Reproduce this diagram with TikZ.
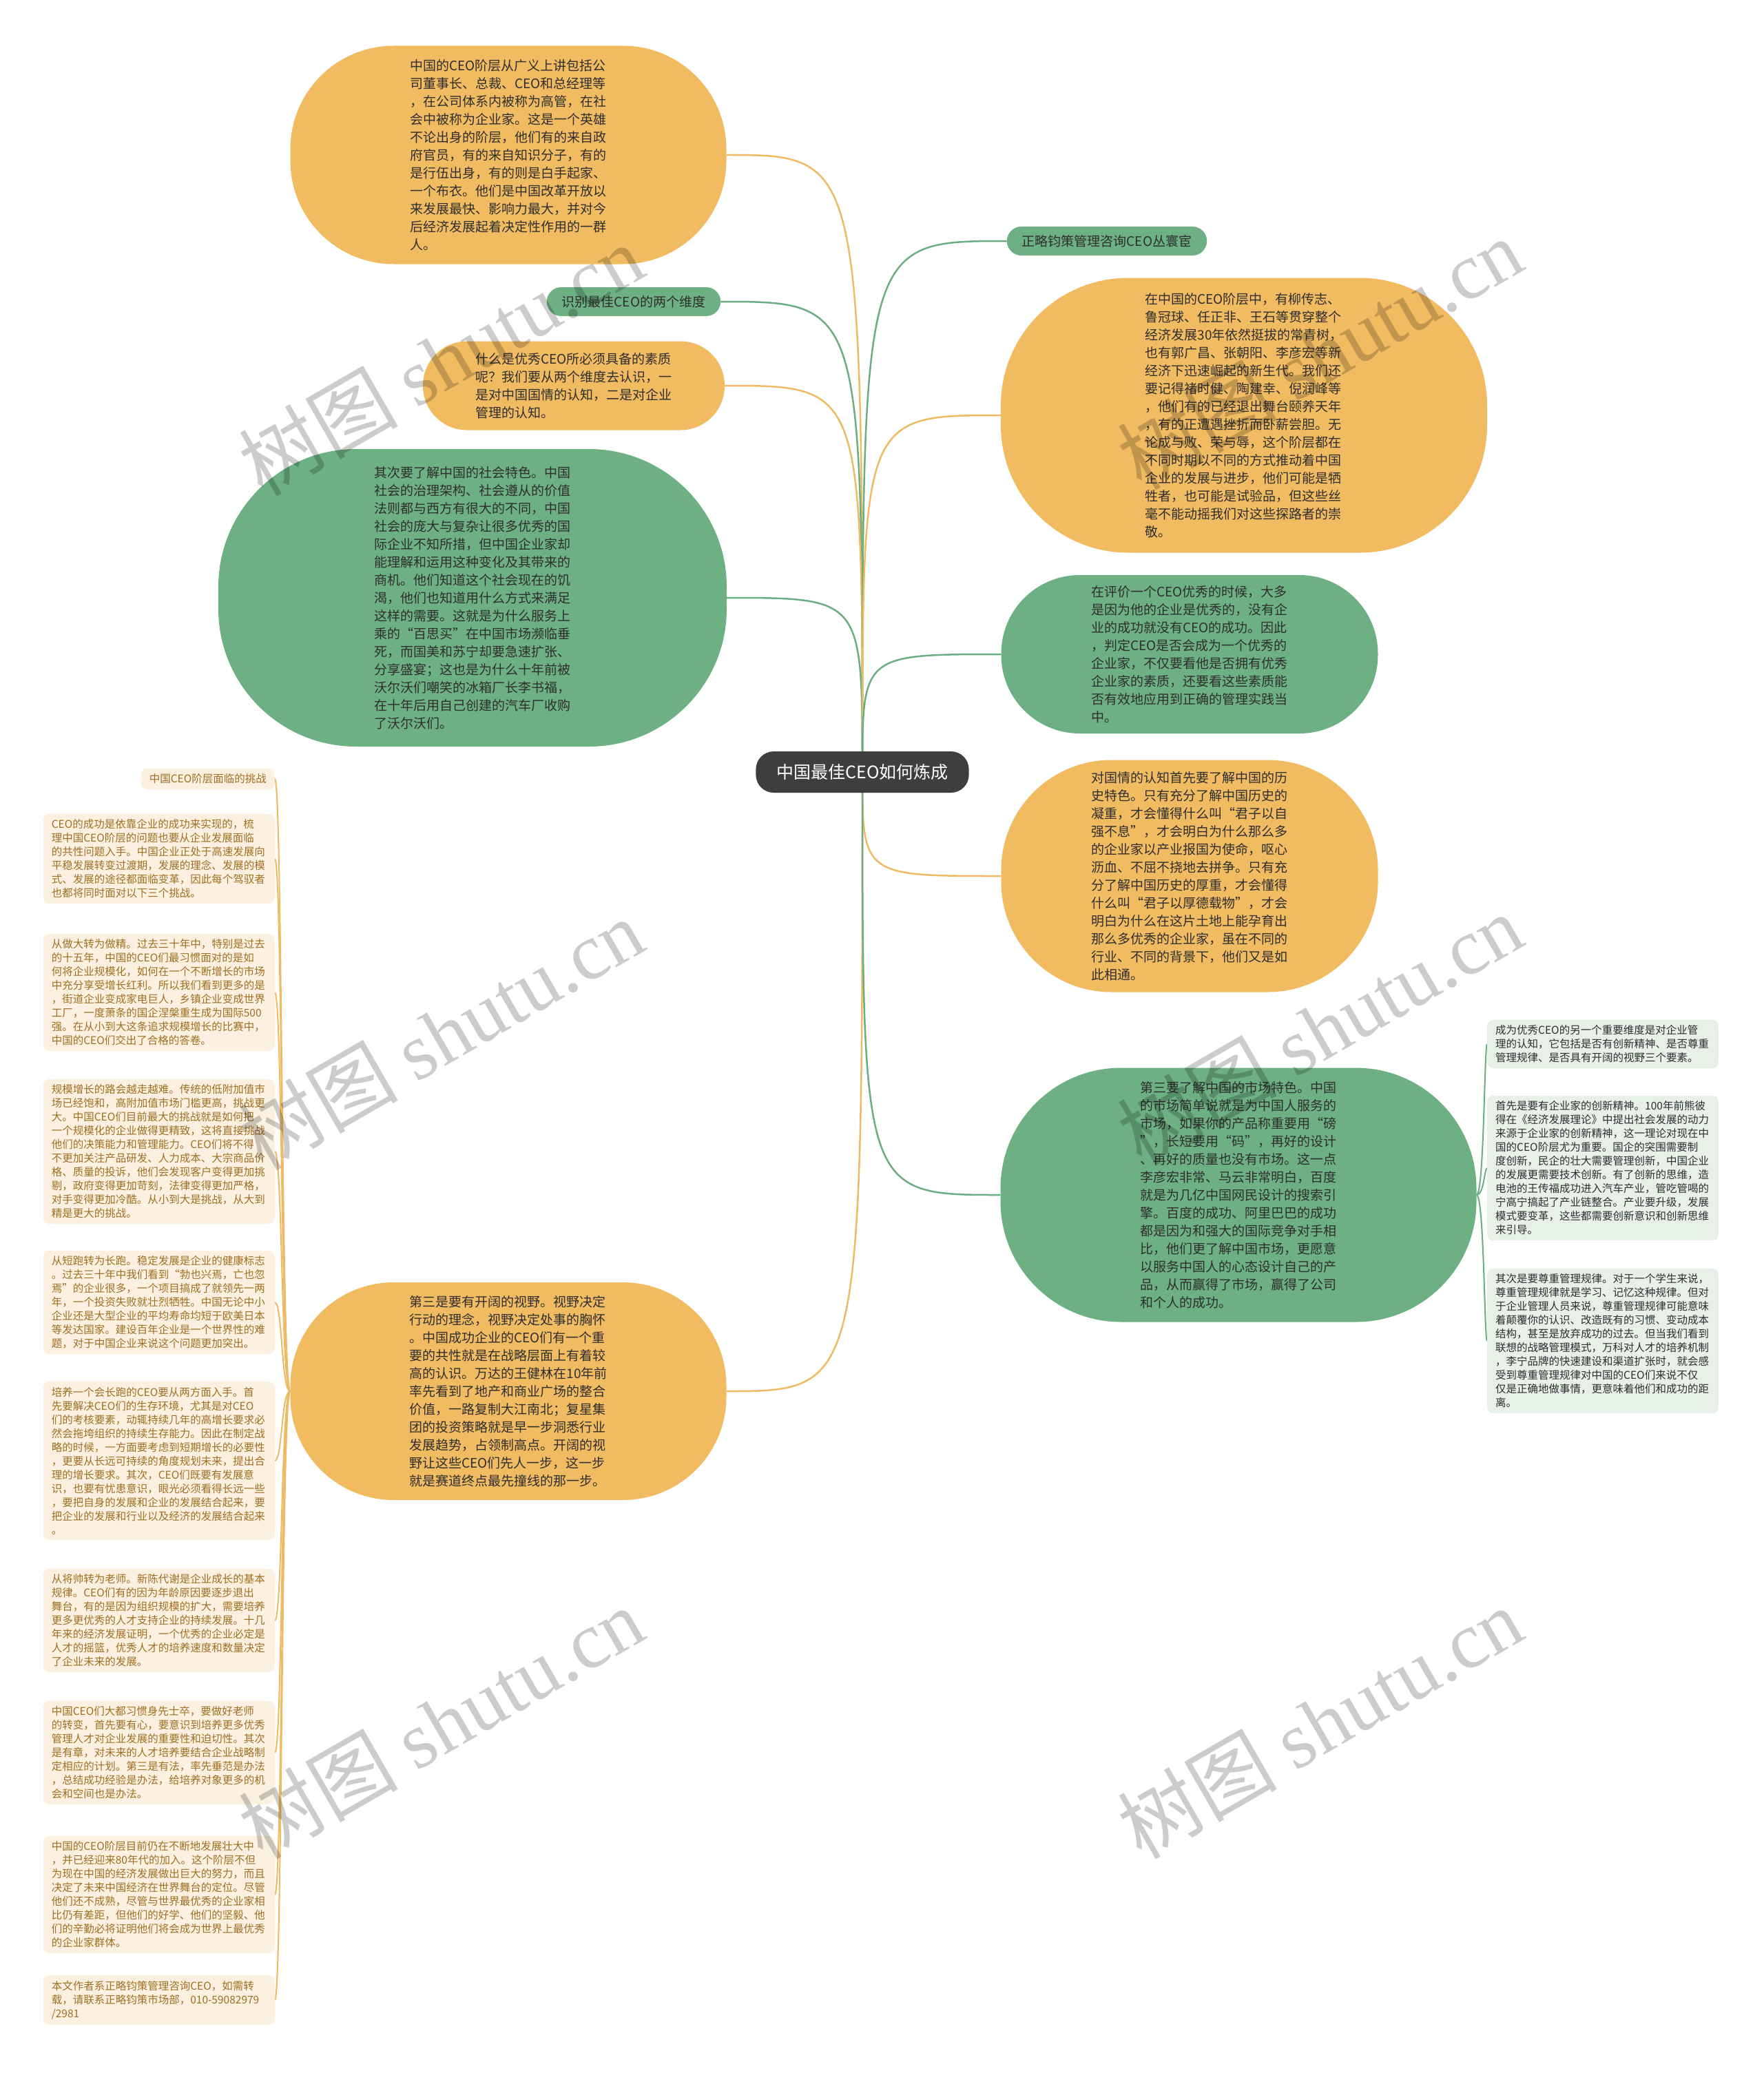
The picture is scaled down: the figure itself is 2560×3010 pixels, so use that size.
\documentclass[tikz,border=0pt]{standalone}
\usepackage{fontspec}
\setmainfont{Noto Sans CJK SC}
\newfontfamily\wmserif{Liberation Serif}
\usetikzlibrary{positioning, backgrounds}
\definecolor{blobor}{HTML}{F1BB62}
\definecolor{blobgr}{HTML}{6DB083}
\definecolor{ctrgray}{HTML}{3E3E3E}
\definecolor{lboxfill}{HTML}{FCF1E1}
\definecolor{lboxtext}{HTML}{9E6F22}
\definecolor{rboxfill}{HTML}{E7F1E9}
\definecolor{inkdark}{HTML}{2E2E2E}
\definecolor{lineor}{HTML}{EEBB64}
\definecolor{linegr}{HTML}{6AAE82}

\tikzset{
  blobtxt/.style={align=left, text=inkdark, inner sep=0, font=\fontsize{19}{26}\selectfont},
  oblob/.style={blobtxt, fill=blobor},
  gblob/.style={blobtxt, fill=blobgr},
  tagbox/.style={fill=blobgr, text=inkdark, rounded corners=21, inner xsep=22, inner ysep=0, minimum height=42, font=\fontsize{19}{23}\selectfont},
  ctrbox/.style={fill=ctrgray, text=white, rounded corners=26, inner xsep=30, inner ysep=0, minimum height=60, font=\fontsize{25}{30}\selectfont},
  lbox/.style={fill=lboxfill, text=lboxtext, rounded corners=9, align=left, inner xsep=12, inner ysep=8, font=\fontsize{15.5}{20}\selectfont},
  lpara/.style={lbox, text width=312},
  rpara/.style={lpara, fill=rboxfill, text=inkdark},
  orline/.style={draw=lineor, line width=2.5},
  grline/.style={draw=linegr, line width=2.5},
  wmark/.style={text=black, opacity=0.2, rotate=30, inner sep=0, font=\fontsize{116}{120}\selectfont},
}

\begin{document}
\begin{tikzpicture}[x=1pt, y=-1pt]
\useasboundingbox (0,0) rectangle (2560,3010);

% centre
\node[ctrbox] (ctr) at (1252,1121) {中国最佳CEO如何炼成};

% left branches
\node[oblob, minimum width=633, minimum height=317, rounded corners=150] (tl) at (738,225) {%
中国的CEO阶层从广义上讲包括公\\
司董事长、总裁、CEO和总经理等\\
，在公司体系内被称为高管，在社\\
会中被称为企业家。这是一个英雄\\
不论出身的阶层，他们有的来自政\\
府官员，有的来自知识分子，有的\\
是行伍出身，有的则是白手起家、\\
一个布衣。他们是中国改革开放以\\
来发展最快、影响力最大，并对今\\
后经济发展起着决定性作用的一群\\
人。};
\node[tagbox] (dim) at (920,438) {识别最佳CEO的两个维度};
\node[oblob, minimum width=438, minimum height=129, rounded corners=64] (what) at (833,560) {%
什么是优秀CEO所必须具备的素质\\
呢？我们要从两个维度去认识，一\\
是对中国国情的认知，二是对企业\\
管理的认知。};
\node[gblob, minimum width=738, minimum height=432, rounded corners=200] (soc) at (686,868) {%
其次要了解中国的社会特色。中国\\
社会的治理架构、社会遵从的价值\\
法则都与西方有很大的不同，中国\\
社会的庞大与复杂让很多优秀的国\\
际企业不知所措，但中国企业家却\\
能理解和运用这种变化及其带来的\\
商机。他们知道这个社会现在的饥\\
渴，他们也知道用什么方式来满足\\
这样的需要。这就是为什么服务上\\
乘的“百思买”在中国市场濒临垂\\
死，而国美和苏宁却要急速扩张、\\
分享盛宴；这也是为什么十年前被\\
沃尔沃们嘲笑的冰箱厂长李书福，\\
在十年后用自己创建的汽车厂收购\\
了沃尔沃们。};
\node[oblob, minimum width=633, minimum height=316, rounded corners=150] (view) at (738,2020) {%
第三是要有开阔的视野。视野决定\\
行动的理念，视野决定处事的胸怀\\
。中国成功企业的CEO们有一个重\\
要的共性就是在战略层面上有着较\\
高的认识。万达的王健林在10年前\\
率先看到了地产和商业广场的整合\\
价值，一路复制大江南北；复星集\\
团的投资策略就是早一步洞悉行业\\
发展趋势，占领制高点。开阔的视\\
野让这些CEO们先人一步，这一步\\
就是赛道终点最先撞线的那一步。};

% right branches
\node[tagbox] (zl) at (1607,350) {正略钧策管理咨询CEO丛寰宦};
\node[oblob, minimum width=706, minimum height=399, rounded corners=185] (elite) at (1806,603) {%
在中国的CEO阶层中，有柳传志、\\
鲁冠球、任正非、王石等贯穿整个\\
经济发展30年依然挺拔的常青树，\\
也有郭广昌、张朝阳、李彦宏等新\\
经济下迅速崛起的新生代。我们还\\
要记得褚时健、陶建幸、倪润峰等\\
，他们有的已经退出舞台颐养天年\\
，有的正遭遇挫折而卧薪尝胆。无\\
论成与败、荣与辱，这个阶层都在\\
不同时期以不同的方式推动着中国\\
企业的发展与进步，他们可能是牺\\
牲者，也可能是试验品，但这些丝\\
毫不能动摇我们对这些探路者的崇\\
敬。};
\node[gblob, minimum width=547, minimum height=230, rounded corners=114] (eval) at (1727,950) {%
在评价一个CEO优秀的时候，大多\\
是因为他的企业是优秀的，没有企\\
业的成功就没有CEO的成功。因此\\
，判定CEO是否会成为一个优秀的\\
企业家，不仅要看他是否拥有优秀\\
企业家的素质，还要看这些素质能\\
否有效地应用到正确的管理实践当\\
中。};
\node[oblob, minimum width=547, minimum height=337, rounded corners=160] (hist) at (1727,1272) {%
对国情的认知首先要了解中国的历\\
史特色。只有充分了解中国历史的\\
凝重，才会懂得什么叫“君子以自\\
强不息”，才会明白为什么那么多\\
的企业家以产业报国为使命，呕心\\
沥血、不屈不挠地去拼争。只有充\\
分了解中国历史的厚重，才会懂得\\
什么叫“君子以厚德载物”，才会\\
明白为什么在这片土地上能孕育出\\
那么多优秀的企业家，虽在不同的\\
行业、不同的背景下，他们又是如\\
此相通。};
\node[gblob, minimum width=691, minimum height=369, rounded corners=175] (mkt) at (1798,1735) {%
第三要了解中国的市场特色。中国\\
的市场简单说就是为中国人服务的\\
市场，如果你的产品称重要用“磅\\
”，长短要用“码”，再好的设计\\
、再好的质量也没有市场。这一点\\
李彦宏非常、马云非常明白，百度\\
就是为几亿中国网民设计的搜索引\\
擎。百度的成功、阿里巴巴的成功\\
都是因为和强大的国际竞争对手相\\
比，他们更了解中国市场，更愿意\\
以服务中国人的心态设计自己的产\\
品，从而赢得了市场，赢得了公司\\
和个人的成功。};

% management leaves (right)
\node[rpara, anchor=west] (r1) at (2159,1516) {%
成为优秀CEO的另一个重要维度是对企业管\\
理的认知，它包括是否有创新精神、是否尊重\\
管理规律、是否具有开阔的视野三个要素。};
\node[rpara, anchor=west] (r2) at (2159,1696) {%
首先是要有企业家的创新精神。100年前熊彼\\
得在《经济发展理论》中提出社会发展的动力\\
来源于企业家的创新精神，这一理论对现在中\\
国的CEO阶层尤为重要。国企的突围需要制\\
度创新，民企的壮大需要管理创新，中国企业\\
的发展更需要技术创新。有了创新的思维，造\\
电池的王传福成功进入汽车产业，管吃管喝的\\
宁高宁搞起了产业链整合。产业要升级，发展\\
模式要变革，这些都需要创新意识和创新思维\\
来引导。};
\node[rpara, anchor=west] (r3) at (2159,1947) {%
其次是要尊重管理规律。对于一个学生来说，\\
尊重管理规律就是学习、记忆这种规律。但对\\
于企业管理人员来说，尊重管理规律可能意味\\
着颠覆你的认识、改造既有的习惯、变动成本\\
结构，甚至是放弃成功的过去。但当我们看到\\
联想的战略管理模式，万科对人才的培养机制\\
，李宁品牌的快速建设和渠道扩张时，就会感\\
受到尊重管理规律对中国的CEO们来说不仅\\
仅是正确地做事情，更意味着他们和成功的距\\
离。};

% challenge leaves (left)
\node[lbox, anchor=east] (l0) at (399,1131) {中国CEO阶层面临的挑战};
\node[lpara, anchor=east] (l1) at (399,1247) {%
CEO的成功是依靠企业的成功来实现的，梳\\
理中国CEO阶层的问题也要从企业发展面临\\
的共性问题入手。中国企业正处于高速发展向\\
平稳发展转变过渡期，发展的理念、发展的模\\
式、发展的途径都面临变革，因此每个驾驭者\\
也都将同时面对以下三个挑战。};
\node[lpara, anchor=east] (l2) at (399,1441) {%
从做大转为做精。过去三十年中，特别是过去\\
的十五年，中国的CEO们最习惯面对的是如\\
何将企业规模化，如何在一个不断增长的市场\\
中充分享受增长红利。所以我们看到更多的是\\
，街道企业变成家电巨人，乡镇企业变成世界\\
工厂，一度萧条的国企涅槃重生成为国际500\\
强。在从小到大这条追求规模增长的比赛中，\\
中国的CEO们交出了合格的答卷。};
\node[lpara, anchor=east] (l3) at (399,1672) {%
规模增长的路会越走越难。传统的低附加值市\\
场已经饱和，高附加值市场门槛更高，挑战更\\
大。中国CEO们目前最大的挑战就是如何把\\
一个规模化的企业做得更精致，这将直接挑战\\
他们的决策能力和管理能力。CEO们将不得\\
不更加关注产品研发、人力成本、大宗商品价\\
格、质量的投诉，他们会发现客户变得更加挑\\
剔，政府变得更加苛刻，法律变得更加严格，\\
对手变得更加冷酷。从小到大是挑战，从大到\\
精是更大的挑战。};
\node[lpara, anchor=east] (l4) at (399,1891) {%
从短跑转为长跑。稳定发展是企业的健康标志\\
。过去三十年中我们看到“勃也兴焉，亡也忽\\
焉”的企业很多，一个项目搞成了就领先一两\\
年，一个投资失败就壮烈牺牲。中国无论中小\\
企业还是大型企业的平均寿命均短于欧美日本\\
等发达国家。建设百年企业是一个世界性的难\\
题，对于中国企业来说这个问题更加突出。};
\node[lpara, anchor=east] (l5) at (399,2121) {%
培养一个会长跑的CEO要从两方面入手。首\\
先要解决CEO们的生存环境，尤其是对CEO\\
们的考核要素，动辄持续几年的高增长要求必\\
然会拖垮组织的持续生存能力。因此在制定战\\
略的时候，一方面要考虑到短期增长的必要性\\
，更要从长远可持续的角度规划未来，提出合\\
理的增长要求。其次，CEO们既要有发展意\\
识，也要有忧患意识，眼光必须看得长远一些\\
，要把自身的发展和企业的发展结合起来，要\\
把企业的发展和行业以及经济的发展结合起来\\
。};
\node[lpara, anchor=east] (l6) at (399,2353) {%
从将帅转为老师。新陈代谢是企业成长的基本\\
规律。CEO们有的因为年龄原因要逐步退出\\
舞台，有的是因为组织规模的扩大，需要培养\\
更多更优秀的人才支持企业的持续发展。十几\\
年来的经济发展证明，一个优秀的企业必定是\\
人才的摇篮，优秀人才的培养速度和数量决定\\
了企业未来的发展。};
\node[lpara, anchor=east] (l7) at (399,2545) {%
中国CEO们大都习惯身先士卒，要做好老师\\
的转变，首先要有心，要意识到培养更多优秀\\
管理人才对企业发展的重要性和迫切性。其次\\
是有章，对未来的人才培养要结合企业战略制\\
定相应的计划。第三是有法，率先垂范是办法\\
，总结成功经验是办法，给培养对象更多的机\\
会和空间也是办法。};
\node[lpara, anchor=east] (l8) at (399,2751) {%
中国的CEO阶层目前仍在不断地发展壮大中\\
，并已经迎来80年代的加入。这个阶层不但\\
为现在中国的经济发展做出巨大的努力，而且\\
决定了未来中国经济在世界舞台的定位。尽管\\
他们还不成熟，尽管与世界最优秀的企业家相\\
比仍有差距，但他们的好学、他们的坚毅、他\\
们的辛勤必将证明他们将会成为世界上最优秀\\
的企业家群体。};
\node[lpara, anchor=east] (l9) at (399,2904) {%
本文作者系正略钧策管理咨询CEO，如需转\\
载，请联系正略钧策市场部，010-59082979\\
/2981};

% connectors
\begin{scope}[on background layer]
  \fill[white] (0,0) rectangle (2560,3010);
  \foreach \t/\s in {tl/orline, dim/grline, what/orline, soc/grline, view/orline}
    \draw[\s] (ctr.center) .. controls (ctr.center |- \t.east) .. (\t.east);
  \foreach \t/\s in {zl/grline, elite/orline, eval/grline, hist/orline, mkt/grline}
    \draw[\s] (ctr.center) .. controls (ctr.center |- \t.west) .. (\t.west);
  \foreach \t in {l0,l1,l2,l3,l4,l5,l6,l7,l8,l9}
    \draw[orline, line width=2] (view.west) .. controls +(-13,0) and +(11,0) .. (\t.east);
  \foreach \t in {r1,r2,r3}
    \draw[grline, line width=2] (mkt.east) .. controls +(11,0) and +(-4,0) .. (\t.west);
\end{scope}

% watermarks
\foreach \wx/\wy in {640/522, 1916/513, 640/1501, 1916/1494, 640/2501, 1916/2501}
  \node[wmark] (wm) at (\wx,\wy) {树图 {\wmserif shutu.cn}};
\end{tikzpicture}
\end{document}
